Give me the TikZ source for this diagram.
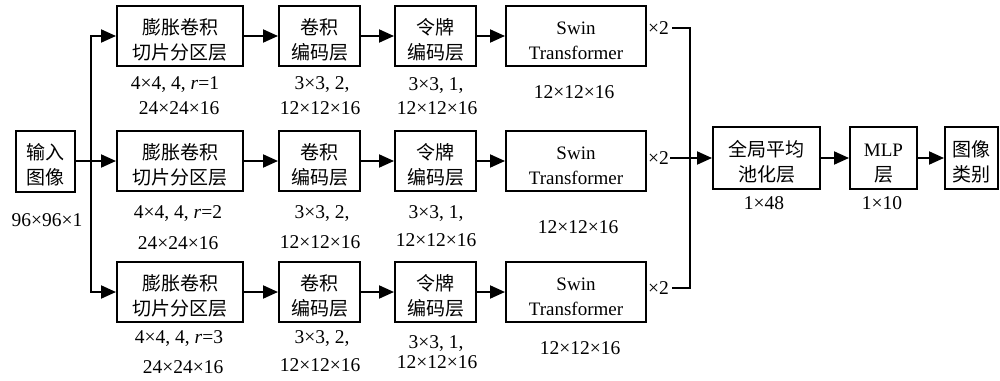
\documentclass[tikz,border=0pt]{standalone}
\usepackage{fontspec}
\setmainfont{Liberation Serif}
\newfontfamily\cjk{Noto Sans CJK SC}
\usetikzlibrary{arrows.meta}
\newcommand\myTop{\rule{0pt}{27pt}}
\newcommand\myBot{\rule[-5pt]{0pt}{0pt}}
\begin{document}
\begin{tikzpicture}[x=1pt,y=-1pt,
  box/.style={draw, line width=2pt, align=center, inner sep=0pt, minimum height=60pt,
    font=\fontsize{19}{25}\selectfont},
  lbl/.style={inner sep=0pt, text height=13pt, text depth=0pt, font=\fontsize{19.5}{22}\selectfont},
  conn/.style={line width=2pt},
  arr/.style={conn, -{Triangle[length=15pt,width=13pt]}}]
\useasboundingbox (0,0) rectangle (1000,380);
% input
\node[box, minimum width=59pt, minimum height=61pt] (in) at (45.5,161) {\myTop\cjk 输入\\\cjk 图像\myBot};
\node[lbl] (inl) at (47,220) {96×96×1};
% rows
\foreach \r/\y/\rr in {t/36/1, m/161/2, b/292/3} {
  \node[box, minimum width=126pt] (\r1) at (180,\y) {\myTop\cjk 膨胀卷积\\\cjk 切片分区层\myBot};
  \node[box, minimum width=81pt] (\r2) at (319.5,\y) {\myTop\cjk 卷积\\\cjk 编码层\myBot};
  \node[box, minimum width=81pt] (\r3) at (435.5,\y) {\myTop\cjk 令牌\\\cjk 编码层\myBot};
  \node[box, minimum width=140pt] (\r4) at (576,\y) {\myTop Swin\\Transformer\myBot};
  \draw[arr] (\r1.east) -- (\r2.west);
  \draw[arr] (\r2.east) -- (\r3.west);
  \draw[arr] (\r3.east) -- (\r4.west);
}
% labels top
\node[lbl] (tl1a) at (175,83) {4×4, 4, \textit{r}=1};
\node[lbl] (tl1b) at (179,108) {24×24×16};
\node[lbl] (tl2a) at (322,83) {3×3, 2,};
\node[lbl] (tl2b) at (320,108) {12×12×16};
\node[lbl] (tl3a) at (436,84) {3×3, 1,};
\node[lbl] (tl3b) at (437,108) {12×12×16};
\node[lbl] (tl4) at (574,92) {12×12×16};
% labels middle
\node[lbl] (ml1a) at (178,212) {4×4, 4, \textit{r}=2};
\node[lbl] (ml1b) at (178,243) {24×24×16};
\node[lbl] (ml2a) at (322,212) {3×3, 2,};
\node[lbl] (ml2b) at (320,242) {12×12×16};
\node[lbl] (ml3a) at (436,212) {3×3, 1,};
\node[lbl] (ml3b) at (436,240) {12×12×16};
\node[lbl] (ml4) at (578,227) {12×12×16};
% labels bottom
\node[lbl] (bl1a) at (179,337) {4×4, 4, \textit{r}=3};
\node[lbl] (bl1b) at (183,367) {24×24×16};
\node[lbl] (bl2a) at (322,337) {3×3, 2,};
\node[lbl] (bl2b) at (320,365) {12×12×16};
\node[lbl] (bl3a) at (436,342) {3×3, 1,};
\node[lbl] (bl3b) at (437,362) {12×12×16};
\node[lbl] (bl4) at (580,348) {12×12×16};
% x2
\node[lbl, anchor=west] (tx) at (648,28) {×2};
\node[lbl, anchor=west] (mx) at (648,158) {×2};
\node[lbl, anchor=west] (bx) at (648,288) {×2};
% left trunk
\coordinate (jl) at (91,161);
\draw[arr] (in.east) -- (m1.west);
\draw[arr] (jl) |- (t1.west);
\draw[arr] (jl) |- (b1.west);
% right part
\node[box, minimum width=107pt, minimum height=62pt] (gap) at (766.5,158) {\myTop\cjk 全局平均\\\cjk 池化层\myBot};
\node[box, minimum width=67pt, minimum height=62pt] (mlp) at (883.5,158) {\myTop MLP\\\cjk 层\myBot};
\node[box, minimum width=53pt, minimum height=62pt] (cls) at (971.5,158) {\myTop\cjk 图像\\\cjk 类别\myBot};
\node[lbl] (gapl) at (764,203) {1×48};
\node[lbl] (mlpl) at (882,203) {1×10};
\coordinate (jr) at (690,158);
\draw[conn] ([xshift=3pt]tx.east) -| (jr) |- ([xshift=3pt]bx.east);
\draw[arr] ([xshift=1pt]mx.east) -- (gap.west);
\draw[arr] (gap.east) -- (mlp.west);
\draw[arr] (mlp.east) -- (cls.west);
\end{tikzpicture}
\end{document}
